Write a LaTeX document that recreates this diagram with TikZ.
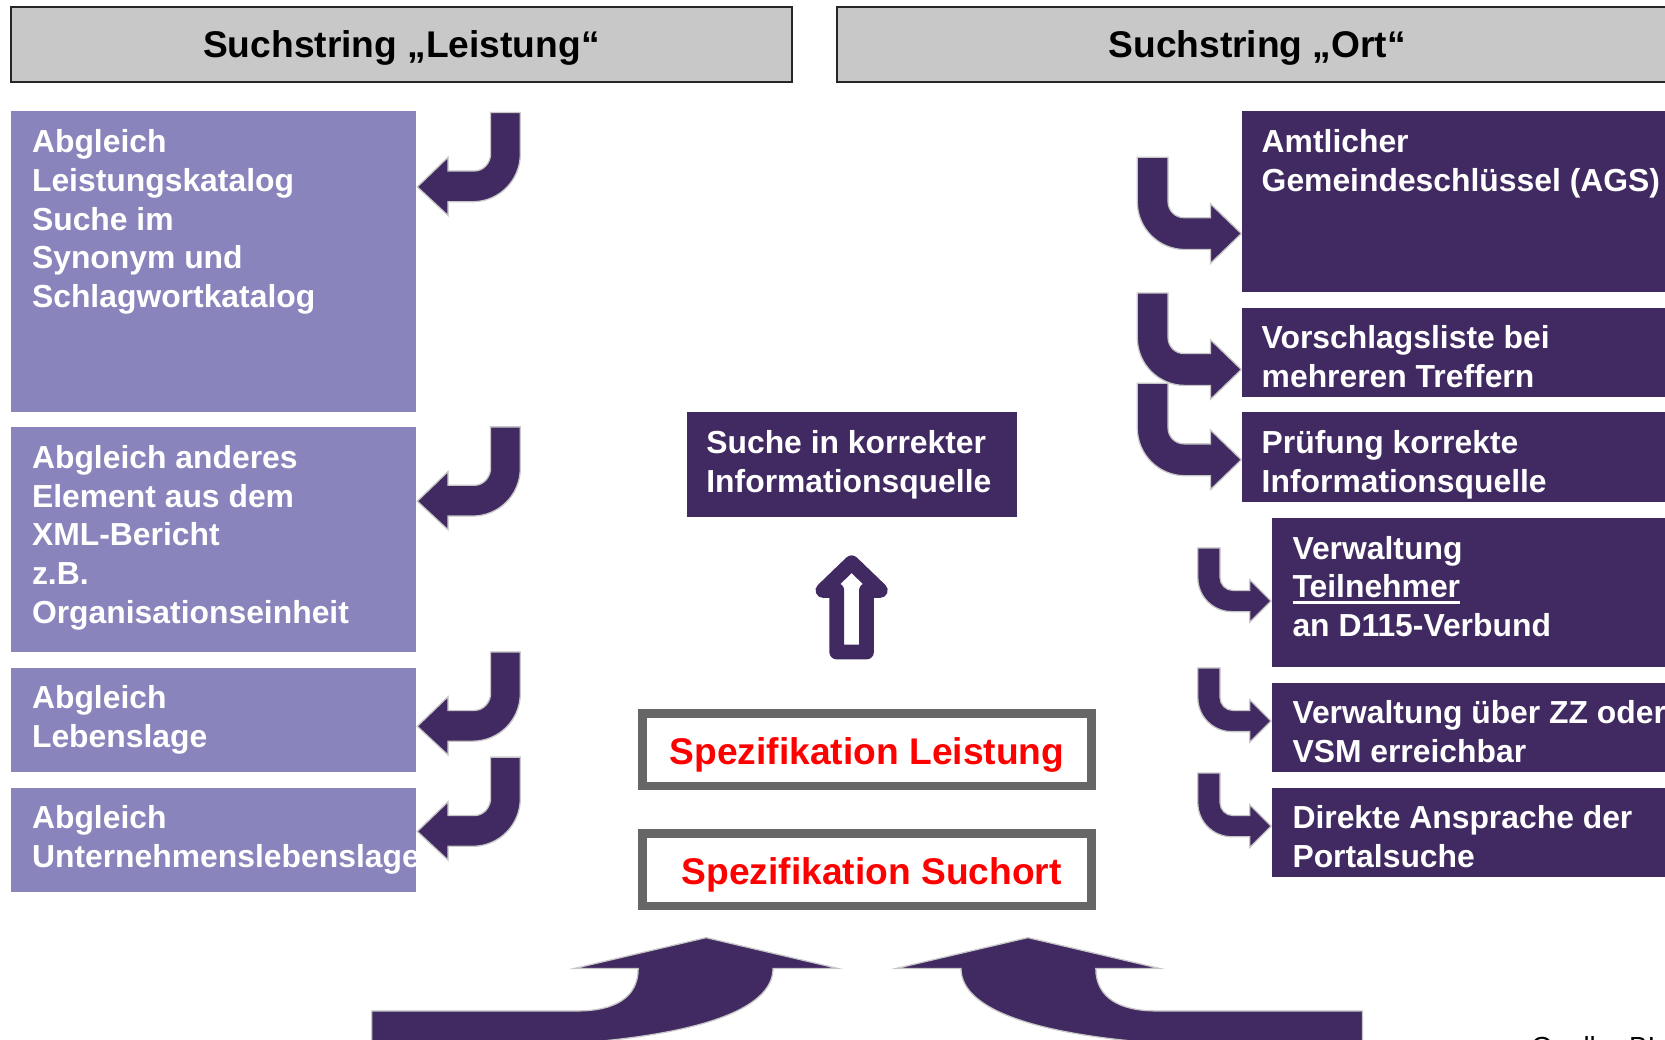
\documentclass[tikz,border=0pt]{standalone}
\usepackage{fontspec}
\setmainfont{Liberation Sans}
\usetikzlibrary{fit}
\definecolor{lpurple}{HTML}{8985BC}
\definecolor{dpurple}{HTML}{412A62}
\definecolor{hgray}{HTML}{C8C8C8}
\definecolor{bgray}{HTML}{666666}
\definecolor{sred}{HTML}{FF0000}
\newcommand{\myul}[1]{\leavevmode\setbox0\hbox{#1}\rlap{\rule[-6pt]{\wd0}{2.4pt}}\box0}
\newcommand{\lines}[1]{\parbox[t]{16cm}{\raggedright #1}}
\begin{document}
\begin{tikzpicture}[x=1pt,y=-1pt,
  hdr/.style={fill=hgray, draw=black!85, line width=2, inner sep=0},
  htext/.style={anchor=base, inner sep=0, font=\bfseries\fontsize{35}{41}\selectfont},
  lbox/.style={fill=lpurple, draw=none, inner sep=0},
  dbox/.style={fill=dpurple, draw=none, inner sep=0},
  wtext/.style={anchor=base west, inner sep=0, text=white, font=\bfseries\fontsize{30}{36.3}\selectfont},
  specbox/.style={draw=bgray, line width=8, fill=white, inner sep=0},
  spectext/.style={anchor=base, inner sep=0, text=sred, font=\bfseries\fontsize{35}{41}\selectfont},
  arrowst/.style={fill=dpurple, draw=black!22, line width=1.2},
  larrow/.pic={\path[arrowst] (462,106) -- (490,106) -- (490,145)
      .. controls (490,169.9) and (469.9,190) .. (445,190) -- (422,190) -- (422,203)
      -- (393,176) -- (422,148) -- (422,161) -- (447,161)
      .. controls (455.3,161) and (462,153.3) .. (462,145) -- cycle;},
  rarrow/.pic={\path[arrowst] (1071,148) -- (1100,148) -- (1100,190)
      .. controls (1100,198.3) and (1106.7,205) .. (1115,205) -- (1140,205) -- (1140,192)
      -- (1169,220) -- (1140,248) -- (1140,235) -- (1116,235)
      .. controls (1091.1,235) and (1071,214.9) .. (1071,190) -- cycle;},
  srarrow/.pic={\path[arrowst] (1128,516) -- (1149,516) -- (1149,544)
      .. controls (1149,550.6) and (1154.4,556) .. (1161,556) -- (1177,556) -- (1177,546)
      -- (1197,566) -- (1177,586) -- (1177,576) -- (1160,576)
      .. controls (1142.3,576) and (1128,561.7) .. (1128,544) -- cycle;}
]
\useasboundingbox (0,0) rectangle (1568,979.4);
\clip (0,0) rectangle (1568,979.4);

% headers
\node[hdr, fit={(10,7) (746,77)}] (h1) {};
\node[htext] (h1t) at (378,54) {Suchstring „Leistung“};
\node[hdr, fit={(788,7) (1580,77)}] (h2) {};
\node[htext] (h2t) at (1184,54) {Suchstring „Ort“};

% left boxes
\node[lbox, fit={(10,105) (392,388)}] (b1) {};
\node[wtext] (b1t) at (30,144) {\lines{Abgleich\\Leistungskatalog\\Suche im\\Synonym und\\Schlagwortkatalog}};
\node[lbox, fit={(10,402) (392,614)}] (b2) {};
\node[wtext] (b2t) at (30,441.5) {\lines{Abgleich anderes\\Element aus dem\\XML-Bericht\\z.B.\\Organisationseinheit}};
\node[lbox, fit={(10,629) (392,727)}] (b3) {};
\node[wtext] (b3t) at (30,667.5) {\lines{Abgleich\\Lebenslage}};
\node[lbox, fit={(10,742) (392,840)}] (b4) {};
\node[wtext] (b4t) at (30,780.5) {\lines{Abgleich\\Unternehmenslebenslage}};

% middle box
\node[dbox, fit={(647,388) (958,487)}] (m1) {};
\node[wtext] (m1t) at (665,427.5) {\lines{Suche in korrekter\\Informationsquelle}};

% right boxes
\node[dbox, fit={(1170,105) (1580,275)}] (r1) {};
\node[wtext] (r1t) at (1188,144) {\lines{Amtlicher\\Gemeindeschlüssel (AGS)}};
\node[dbox, fit={(1170,290) (1580,374)}] (r2) {};
\node[wtext] (r2t) at (1188,328.5) {\lines{Vorschlagsliste bei\\mehreren Treffern}};
\node[dbox, fit={(1170,388) (1580,473)}] (r3) {};
\node[wtext] (r3t) at (1188,427.5) {\lines{Prüfung korrekte\\Informationsquelle}};
\node[dbox, fit={(1198,488) (1580,628)}] (r4) {};
\node[wtext] (r4t) at (1217,526.5) {\lines{Verwaltung\\\myul{Teilnehmer}\\an D115-Verbund}};
\node[dbox, fit={(1198,643) (1580,727)}] (r5) {};
\node[wtext] (r5t) at (1217,681.5) {\lines{Verwaltung über ZZ oder\\VSM erreichbar}};
\node[dbox, fit={(1198,742) (1580,826)}] (r6) {};
\node[wtext] (r6t) at (1217,780.5) {\lines{Direkte Ansprache der\\Portalsuche}};

% specification boxes
\node[specbox, fit={(605,672) (1028,740)}] (s1) {};
\node[spectext] (s1t) at (816.5,719.5) {Spezifikation Leistung};
\node[specbox, fit={(605,785) (1028,853)}] (s2) {};
\node[spectext] (s2t) at (821,832.5) {Spezifikation Suchort};

% bent arrows left
\pic at (0,0) {larrow};
\pic at (0,296) {larrow};
\pic at (0,508) {larrow};
\pic at (0,607) {larrow};
% bent arrows right
\pic at (0,0) {rarrow};
\pic at (0,128) {rarrow};
\pic at (0,213) {rarrow};
\pic at (0,0) {srarrow};
\pic at (0,113) {srarrow};
\pic at (0,212) {srarrow};

% up arrow (outline)
\draw[draw=dpurple, fill=white, line width=14, line join=round]
  (788,614) -- (788,556) -- (775,556) -- (802,530) -- (829,556) -- (816,556) -- (816,614) -- cycle;

% big bottom arrows
\path[arrowst] (350,995) -- (350,952) -- (544,952) .. controls (578,952) and (601,940) .. (601,912)
  -- (541,912) -- (665,883) -- (789,912) -- (728,912)
  .. controls (728,950) and (660,978) .. (500,985) -- (500,995) -- cycle;
\path[arrowst] (1283,995) -- (1283,952) -- (1089,952) .. controls (1055,952) and (1032,940) .. (1032,912)
  -- (1092,912) -- (968,883) -- (844,912) -- (905,912)
  .. controls (905,950) and (973,978) .. (1133,985) -- (1133,995) -- cycle;

% source (cut off at the lower edge, as in the original)
\node[anchor=base west, inner sep=0, font=\fontsize{26}{30}\selectfont] (src) at (1442,995) {Quelle: BI};
\end{tikzpicture}
\end{document}
